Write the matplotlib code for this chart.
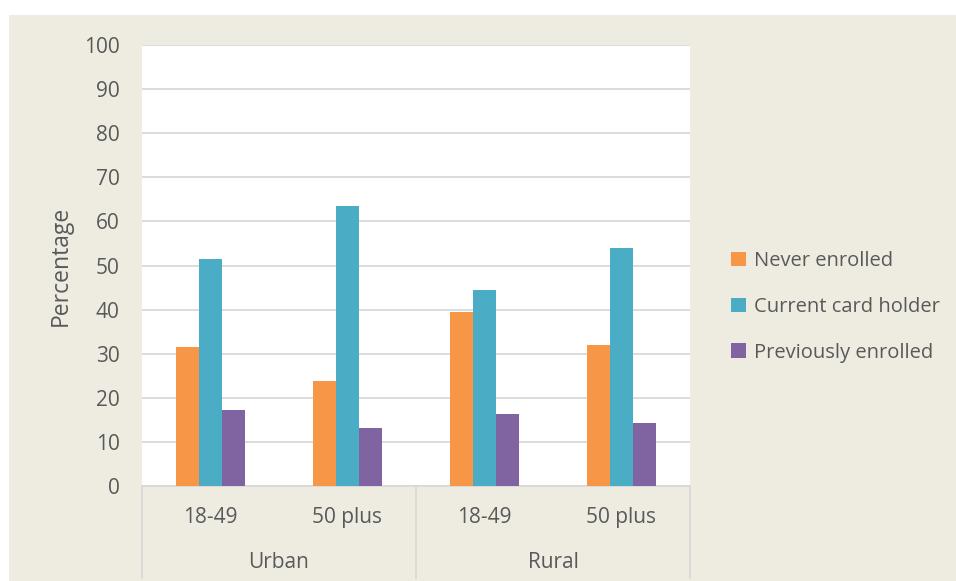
import matplotlib.pyplot as plt
import numpy as np
from matplotlib.patches import Rectangle
from matplotlib.transforms import blended_transform_factory

# Survey shares by area and age group
groups = ["Urban", "Rural"]
age_groups = ["18-49", "50 plus", "18-49", "50 plus"]
series_names = ["Never enrolled", "Current card holder", "Previously enrolled"]
never_enrolled = [31.5, 23.8, 39.5, 31.9]
current_holder = [51.5, 63.5, 44.4, 54.0]
previously_enrolled = [17.3, 13.1, 16.3, 14.3]
yticks = list(range(0, 101, 10))

colors = ["#F79646", "#4BACC6", "#8064A2"]
bg = "#EEEBE0"
text_color = "#595959"
grid_color = "#D9D9D9"

plt.rcParams["font.family"] = ["Open Sans", "DejaVu Sans"]

W, H = 956, 581
fig = plt.figure(figsize=(W / 100, H / 100), dpi=100)
fig.patch.set_facecolor("white")
fig.patches.append(Rectangle((9 / W, 0), 1 - 9 / W, 1 - 15 / H,
                             transform=fig.transFigure, facecolor=bg,
                             edgecolor="none", zorder=-10))

ax = fig.add_axes([142 / W, (H - 486) / H, 548 / W, 441 / H])
ax.set_facecolor("white")

x = np.arange(len(age_groups))
bw = 1 / 6
for i, (vals, name) in enumerate(zip([never_enrolled, current_holder, previously_enrolled], series_names)):
    ax.bar(x + (i - 1) * bw, vals, width=bw, color=colors[i], label=name, zorder=3)

ax.set_xlim(-0.5, len(age_groups) - 0.5)
ax.set_ylim(0, 100)
ax.set_yticks(yticks)
ax.yaxis.grid(True, color=grid_color, linewidth=1.3, zorder=0)
ax.set_axisbelow(True)
for s in ["top", "right", "left"]:
    ax.spines[s].set_visible(False)
ax.spines["bottom"].set_color(grid_color)
ax.spines["bottom"].set_linewidth(1.3)
ax.tick_params(axis="y", length=0, pad=16, labelsize=15, labelcolor=text_color)
ax.tick_params(axis="x", length=0, pad=15, labelsize=15, labelcolor=text_color)
ax.set_xticks(x)
ax.set_xticklabels(age_groups)
ax.set_ylabel("Percentage", fontsize=16.5, color=text_color, labelpad=8)

# Group labels and separators under the category axis
trans = blended_transform_factory(ax.transData, ax.transAxes)
depth = -(578 - 486) / 441
for xs in [-0.5, 1.5, 3.5]:
    ax.plot([xs, xs], [0, depth], transform=trans, color=grid_color,
            linewidth=1.3, clip_on=False)
for gi, g in enumerate(groups):
    ax.text(gi * 2 + 0.5, -(562 - 486) / 441, g, transform=trans,
            ha="center", va="center", fontsize=15, color=text_color)

leg = fig.legend(loc="upper left", bbox_to_anchor=(713 / W, 1 - 233 / H),
                 frameon=False, fontsize=14.5, handlelength=0.75, handleheight=0.75,
                 handletextpad=0.4, labelspacing=1.28, labelcolor=text_color)

fig.savefig("out.png", dpi=100, facecolor=fig.get_facecolor())
